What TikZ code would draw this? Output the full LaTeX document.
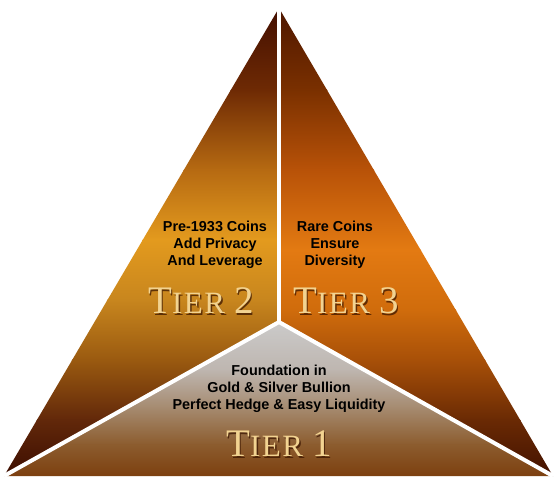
\documentclass[tikz,border=0pt]{standalone}
\usepackage{fontspec}
\setmainfont{Liberation Sans}
\newfontfamily\tierfont[LetterSpace=5]{Liberation Serif}
\definecolor{gold}{HTML}{F2D391}
\definecolor{goldshadow}{HTML}{3A1500}
\newcommand{\tiertext}[1]{{\fontsize{39}{39}\selectfont T}{\fontsize{31}{31}\selectfont IER\hspace{9pt}}{\fontsize{39}{39}\selectfont #1}}
\tikzset{
  body/.style={align=center, inner sep=0pt, text=black, font=\bfseries\fontsize{14.4}{17}\selectfont},
  tierlbl/.style={inner sep=0pt, text=gold, font=\tierfont},
  tiershadow/.style={inner sep=0pt, text=goldshadow, opacity=0.75, font=\tierfont},
  gap/.style={white, line width=4pt}
}
\begin{document}
\begin{tikzpicture}[x=1pt,y=-1pt]
\useasboundingbox (0,0) rectangle (558,480);
\fill[white] (0,0) rectangle (558,480);
\coordinate (A) at (279,8);
\coordinate (L) at (4,476);
\coordinate (R) at (553,476);
\coordinate (C) at (279,322);
% Tier 2 (left)
\begin{scope}
\clip (A)--(C)--(L)--cycle;
\shade[top color={rgb,255:red,63;green,12;blue,0}, bottom color={rgb,255:red,110;green,42;blue,4}] (0,0) rectangle (558,90);
\shade[top color={rgb,255:red,110;green,42;blue,4}, bottom color={rgb,255:red,182;green,106;blue,18}] (0,89.5) rectangle (558,170);
\shade[top color={rgb,255:red,182;green,106;blue,18}, bottom color={rgb,255:red,227;green,154;blue,30}] (0,169.5) rectangle (558,240);
\shade[top color={rgb,255:red,227;green,154;blue,30}, bottom color={rgb,255:red,200;green,134;blue,30}] (0,239.5) rectangle (558,300);
\shade[top color={rgb,255:red,200;green,134;blue,30}, bottom color={rgb,255:red,154;green,90;blue,16}] (0,299.5) rectangle (558,360);
\shade[top color={rgb,255:red,154;green,90;blue,16}, bottom color={rgb,255:red,98;green,40;blue,10}] (0,359.5) rectangle (558,420);
\shade[top color={rgb,255:red,98;green,40;blue,10}, bottom color={rgb,255:red,58;green,12;blue,0}] (0,419.5) rectangle (558,480);
\end{scope}
% Tier 3 (right)
\begin{scope}
\clip (A)--(R)--(C)--cycle;
\shade[top color={rgb,255:red,74;green,20;blue,0}, bottom color={rgb,255:red,122;green,48;blue,0}] (0,0) rectangle (558,90);
\shade[top color={rgb,255:red,122;green,48;blue,0}, bottom color={rgb,255:red,184;green,82;blue,8}] (0,89.5) rectangle (558,170);
\shade[top color={rgb,255:red,184;green,82;blue,8}, bottom color={rgb,255:red,227;green,122;blue,18}] (0,169.5) rectangle (558,250);
\shade[top color={rgb,255:red,227;green,122;blue,18}, bottom color={rgb,255:red,208;green,108;blue,12}] (0,249.5) rectangle (558,310);
\shade[top color={rgb,255:red,208;green,108;blue,12}, bottom color={rgb,255:red,168;green,80;blue,8}] (0,309.5) rectangle (558,360);
\shade[top color={rgb,255:red,168;green,80;blue,8}, bottom color={rgb,255:red,106;green,42;blue,4}] (0,359.5) rectangle (558,420);
\shade[top color={rgb,255:red,106;green,42;blue,4}, bottom color={rgb,255:red,64;green,16;blue,0}] (0,419.5) rectangle (558,480);
\end{scope}
% Tier 1 (bottom)
\begin{scope}
\clip (C)--(R)--(L)--cycle;
\shade[top color={rgb,255:red,204;green,204;blue,204}, bottom color={rgb,255:red,190;green,182;blue,176}] (0,318) rectangle (558,370);
\shade[top color={rgb,255:red,190;green,182;blue,176}, bottom color={rgb,255:red,164;green,136;blue,108}] (0,369.5) rectangle (558,410);
\shade[top color={rgb,255:red,164;green,136;blue,108}, bottom color={rgb,255:red,140;green,92;blue,46}] (0,409.5) rectangle (558,445);
\shade[top color={rgb,255:red,140;green,92;blue,46}, bottom color={rgb,255:red,122;green,60;blue,12}] (0,444.5) rectangle (558,480);
\end{scope}
% white gaps
\draw[gap] (C) -- (A);
\draw[gap] (C) -- (L);
\draw[gap] (C) -- (R);
% texts
\node[body] (t2) at (215,245) {Pre-1933 Coins\\Add Privacy\\And Leverage};
\node[body] (t3) at (335,245) {Rare Coins\\Ensure\\Diversity};
\node[body] (t1) at (279,389) {Foundation in\\Gold \& Silver Bullion\\Perfect Hedge \& Easy Liquidity};
% tier labels
\node[tiershadow] (l2s) at (202.5,302.5) {\tiertext{2}};
\node[tierlbl] (l2) at (201,301) {\tiertext{2}};
\node[tiershadow] (l3s) at (347.5,302.5) {\tiertext{3}};
\node[tierlbl] (l3) at (346,301) {\tiertext{3}};
\node[tiershadow] (l1s) at (280.5,445.5) {\tiertext{1}};
\node[tierlbl] (l1) at (279,444) {\tiertext{1}};
\end{tikzpicture}
\end{document}
